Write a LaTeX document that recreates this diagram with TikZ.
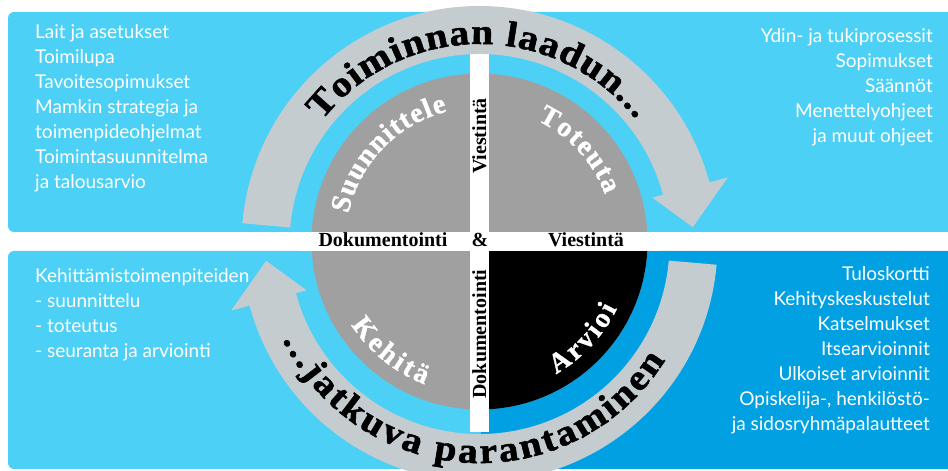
\documentclass[tikz,border=0pt]{standalone}
\usepackage{fontspec}
\setmainfont{Lato}
\newfontfamily\posterserif{Liberation Serif Bold}[FakeStretch=1.1, FakeBold=1.5]
\newfontfamily\heavyserif{Liberation Serif Bold}[FakeBold=1.2]
\newfontfamily\barserif{Liberation Serif Bold}
\usepackage{tikz}
\usetikzlibrary{positioning,decorations.text}
\definecolor{paleblue}{RGB}{77,208,245}
\definecolor{deepblue}{RGB}{0,160,227}
\definecolor{ringgray}{RGB}{197,204,207}
\definecolor{discgray}{RGB}{160,160,160}
\newcommand\ringfont{\posterserif\fontsize{36}{36}\selectfont}
\newcommand\discfont{\heavyserif\fontsize{28}{28}\selectfont}

\begin{document}
\begin{tikzpicture}[
				x=1pt, y=1pt,
				sidetext/.style={font=\fontsize{19}{25}\selectfont, text=white, inner sep=0pt},
				leftlist/.style={sidetext, align=left, anchor=north west},
				rightlist/.style={sidetext, align=right, anchor=north east},
				bandlabel/.style={font=\barserif\fontsize{20}{20}\selectfont, inner sep=0pt, anchor=base},
				ringtext/.style={decorate, decoration={text along path, text align={fit to path}, text color=black}},
				disctext/.style={decorate, decoration={text along path, text align={fit to path}, text color=white}}
				]
				\useasboundingbox (0,0) rectangle (948,471);
				
				% Background panels
				\fill[paleblue, rounded corners=6pt] (960,459) -- (8,459) -- (8,239) -- (960,239) -- cycle;
				\fill[paleblue, rounded corners=6pt] (960,220) -- (8,220) -- (8,2) -- (960,2) -- cycle;
				\fill[deepblue] (481,2) rectangle (960,220);
				
				% Disc with four quarters
				\fill[discgray] (479.5,229.5) circle[radius=168pt];
				\fill[black] (479.5,229.5) -- +(0:168pt) arc[start angle=0, end angle=-90, radius=168pt] -- cycle;
				
				% White cross
				\fill[white] (300,220) rectangle (660,239);
				\fill[white] (470,39) rectangle (489,420);
				
				% Ring arrows and their texts
				\begin{scope}[shift={(479.5,227)}]
					\fill[ringgray] (175:238pt) arc[start angle=175, end angle=15, radius=238pt]
					-- (15:257pt) -- (4.5:214pt) -- (15:179pt) -- (15:190pt)
					arc[start angle=15, end angle=175, radius=190pt] -- cycle;
					\fill[ringgray] (-5:238pt) arc[start angle=-5, end angle=-165, radius=238pt]
					-- (-165:257pt) -- (-175.5:214pt) -- (-165:179pt) -- (-165:190pt)
					arc[start angle=-165, end angle=-5, radius=190pt] -- cycle;
					\path[ringtext, decoration={text={|\ringfont|Toiminnan laadun...}}]
					(142:200pt) arc[start angle=142, end angle=38.5, radius=200pt];
					\path[ringtext, decoration={text={|\ringfont|...jatkuva parantaminen}}]
					(206:219pt) arc[start angle=206, end angle=328, radius=219pt];
				\end{scope}
				
				% Quarter labels
				\begin{scope}[shift={(479.5,229.5)}]
					\path[disctext, decoration={text={|\discfont|Suunnittele}}]
					(168:134pt) arc[start angle=168, end angle=104, radius=134pt];
					\path[disctext, decoration={text={|\discfont|Toteuta}}]
					(64.5:134pt) arc[start angle=64.5, end angle=20.5, radius=134pt];
					\path[disctext, decoration={text={|\discfont|Kehitä}}]
					(213:153pt) arc[start angle=213, end angle=249, radius=153pt];
					\path[disctext, decoration={text={|\discfont|Arvioi}}]
					(300:153pt) arc[start angle=300, end angle=334, radius=153pt];
				\end{scope}
				
				% Labels on the cross
				\node[bandlabel] (dokuh) at (383,224) {Dokumentointi};
				\node[bandlabel] (amp) at (480,224) {\&};
				\node[bandlabel] (viesth) at (586,224) {Viestintä};
				\node[bandlabel, rotate=90] (viestv) at (486,335) {Viestintä};
				\node[bandlabel, rotate=90] (dokuv) at (486,137) {Dokumentointi};
				
				% Side lists
				\node[leftlist] (plan) at (35,447) {Lait ja asetukset\\Toimilupa\\Tavoitesopimukset\\
					Mamkin strategia ja\\toimenpideohjelmat\\Toimintasuunnitelma\\ja talousarvio};
				\node[rightlist] (doit) at (933,443) {Ydin- ja tukiprosessit\\Sopimukset\\Säännöt\\
					Menettelyohjeet\\ja muut ohjeet};
				\node[leftlist] (improve) at (35,203) {Kehittämistoimenpiteiden\\- suunnittelu\\- toteutus\\
					- seuranta ja arviointi};
				\node[rightlist] (assess) at (930,205) {Tuloskortti\\Kehityskeskustelut\\Katselmukset\\
					Itsearvioinnit\\Ulkoiset arvioinnit\\Opiskelija-, henkilöstö-\\ja sidosryhmäpalautteet};
				
			\end{tikzpicture}
\end{document}
